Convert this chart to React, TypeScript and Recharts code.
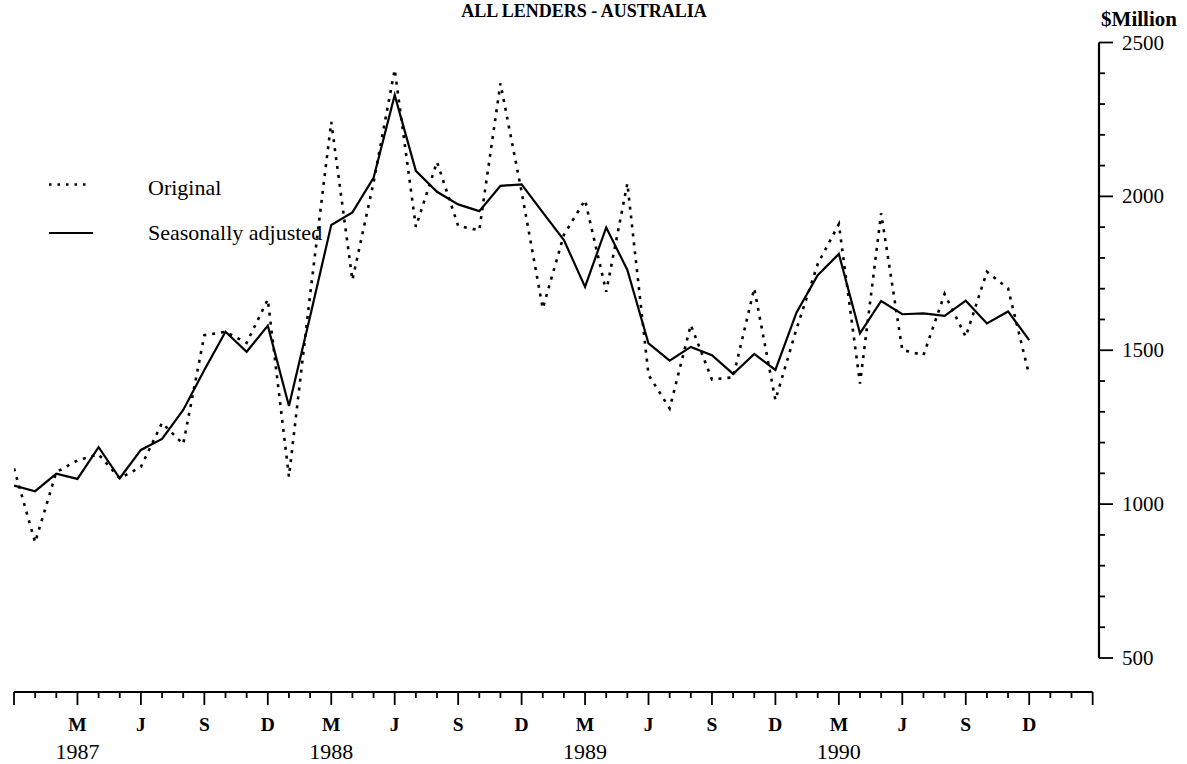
import React from 'react';
import { LineChart, Line, XAxis, YAxis, ReferenceLine } from 'recharts';

const months = [
  'Dec 1986',
  'Jan 1987', 'Feb 1987', 'Mar 1987', 'Apr 1987', 'May 1987', 'Jun 1987',
  'Jul 1987', 'Aug 1987', 'Sep 1987', 'Oct 1987', 'Nov 1987', 'Dec 1987',
  'Jan 1988', 'Feb 1988', 'Mar 1988', 'Apr 1988', 'May 1988', 'Jun 1988',
  'Jul 1988', 'Aug 1988', 'Sep 1988', 'Oct 1988', 'Nov 1988', 'Dec 1988',
  'Jan 1989', 'Feb 1989', 'Mar 1989', 'Apr 1989', 'May 1989', 'Jun 1989',
  'Jul 1989', 'Aug 1989', 'Sep 1989', 'Oct 1989', 'Nov 1989', 'Dec 1989',
  'Jan 1990', 'Feb 1990', 'Mar 1990', 'Apr 1990', 'May 1990', 'Jun 1990',
  'Jul 1990', 'Aug 1990', 'Sep 1990', 'Oct 1990', 'Nov 1990', 'Dec 1990',
];

const original = [
  1116,
  876, 1104, 1142, 1162, 1084, 1121, 1264, 1195, 1549, 1560, 1524, 1665,
  1089, 1680, 2242, 1728, 2045, 2412, 1901, 2112, 1904, 1890, 2367, 2015,
  1636, 1875, 1988, 1690, 2042, 1420, 1311, 1582, 1405, 1412, 1701, 1338,
  1570, 1780, 1910, 1392, 1945, 1501, 1484, 1683, 1544, 1755, 1701, 1419,
];

const seasonallyAdjusted = [
  1060,
  1042, 1099, 1082, 1185, 1084, 1176, 1212, 1306, 1436, 1560, 1495, 1580,
  1319, 1610, 1907, 1948, 2060, 2329, 2083, 2015, 1974, 1952, 2034, 2039,
  1948, 1858, 1706, 1899, 1761, 1522, 1466, 1511, 1484, 1423, 1488, 1436,
  1623, 1744, 1813, 1555, 1660, 1617, 1620, 1612, 1661, 1587, 1626, 1533,
];

const quarterLetters = ['M', 'J', 'S', 'D'];
const yearLabels = ['1987', '1988', '1989', '1990'];
const yMajorLabels = [500, 1000, 1500, 2000, 2500];
const yTicks = [
  500, 600, 700, 800, 900, 1000, 1100, 1200, 1300, 1400, 1500,
  1600, 1700, 1800, 1900, 2000, 2100, 2200, 2300, 2400, 2500,
];
const xTicks = Array.from({ length: 52 }, (_, i) => i);

const data = months.map((m, i) => ({
  idx: i,
  month: m,
  original: original[i],
  seasonallyAdjusted: seasonallyAdjusted[i],
}));

const FONT = '"Liberation Serif", "Times New Roman", serif';
const Y_MIN = 389.5;
const X_MAX = 51.3;

const XTick = (props: any) => {
  const { x, y, payload } = props;
  const v = payload.value as number;
  const major = v % 3 === 0;
  let letter: string | null = null;
  if (major && v >= 3 && v <= 48) letter = quarterLetters[(v / 3 - 1) % 4];
  const year = v % 12 === 3 ? yearLabels[(v - 3) / 12] : null;
  return (
    <g>
      <line x1={x} y1={y} x2={x} y2={y + (major ? 13 : 6)} stroke="#000" strokeWidth={1.8} />
      {letter && (
        <text x={x} y={y + 39} textAnchor="middle" fontFamily={FONT} fontWeight="bold" fontSize={19.5} fill="#000">
          {letter}
        </text>
      )}
      {year && (
        <text x={x} y={y + 67} textAnchor="middle" fontFamily={FONT} fontSize={22} fill="#000">
          {year}
        </text>
      )}
    </g>
  );
};

const YTick = (props: any) => {
  const { x, y, payload } = props;
  const v = payload.value as number;
  const major = yMajorLabels.includes(v);
  return (
    <g>
      <line x1={x} y1={y} x2={x + (major ? 14 : 6)} y2={y} stroke="#000" strokeWidth={1.8} />
      {major && (
        <text x={x + 23} y={y + 7} textAnchor="start" fontFamily={FONT} fontSize={21} fill="#000">
          {v}
        </text>
      )}
    </g>
  );
};

export default function App() {
  return (
    <div style={{ position: 'absolute', left: 0, top: 0, width: 1187, height: 764, background: '#fff' }}>
      <LineChart
        width={1187}
        height={764}
        data={data}
        margin={{ top: 42.5, right: 0, bottom: 0, left: 14 }}
      >
        <XAxis
          dataKey="idx"
          type="number"
          domain={[0, X_MAX]}
          allowDataOverflow
          ticks={xTicks}
          interval={0}
          height={72}
          axisLine={false}
          tickLine={false}
          tickSize={0}
          tickMargin={0}
          tick={(p: any) => <XTick {...p} />}
        />
        <YAxis
          orientation="right"
          type="number"
          domain={[Y_MIN, 2500]}
          allowDataOverflow
          ticks={yTicks}
          interval={0}
          width={88}
          axisLine={false}
          tickLine={false}
          tickSize={0}
          tickMargin={0}
          tick={(p: any) => <YTick {...p} />}
        />
        <ReferenceLine
          segment={[{ x: 0, y: Y_MIN }, { x: 51, y: Y_MIN }]}
          stroke="#000"
          strokeWidth={2}
          ifOverflow="visible"
        />
        <ReferenceLine
          segment={[{ x: X_MAX, y: 500 }, { x: X_MAX, y: 2500 }]}
          stroke="#000"
          strokeWidth={2.2}
          ifOverflow="visible"
        />
        <Line
          type="linear"
          dataKey="original"
          name="Original"
          stroke="#000"
          strokeWidth={2.6}
          strokeDasharray="3 6"
          dot={false}
          activeDot={false}
          isAnimationActive={false}
        />
        <Line
          type="linear"
          dataKey="seasonallyAdjusted"
          name="Seasonally adjusted"
          stroke="#000"
          strokeWidth={2.2}
          dot={false}
          activeDot={false}
          isAnimationActive={false}
        />
      </LineChart>
      <svg
        width={1187}
        height={764}
        style={{ position: 'absolute', left: 0, top: 0, pointerEvents: 'none' }}
      >
        <text x={584} y={17} textAnchor="middle" fontFamily={FONT} fontWeight="bold" fontSize={18} fill="#000">
          ALL LENDERS - AUSTRALIA
        </text>
        <text x={1139} y={26} textAnchor="middle" fontFamily={FONT} fontWeight="bold" fontSize={21} fill="#000">
          $Million
        </text>
        <line x1={49} y1={184.5} x2={91} y2={184.5} stroke="#000" strokeWidth={2.4} strokeDasharray="2.5 6" />
        <text x={148} y={195} fontFamily={FONT} fontSize={22} fill="#000">Original</text>
        <line x1={49} y1={233} x2={93} y2={233} stroke="#000" strokeWidth={2} />
        <text x={148} y={240} fontFamily={FONT} fontSize={22} fill="#000">Seasonally adjusted</text>
      </svg>
    </div>
  );
}
